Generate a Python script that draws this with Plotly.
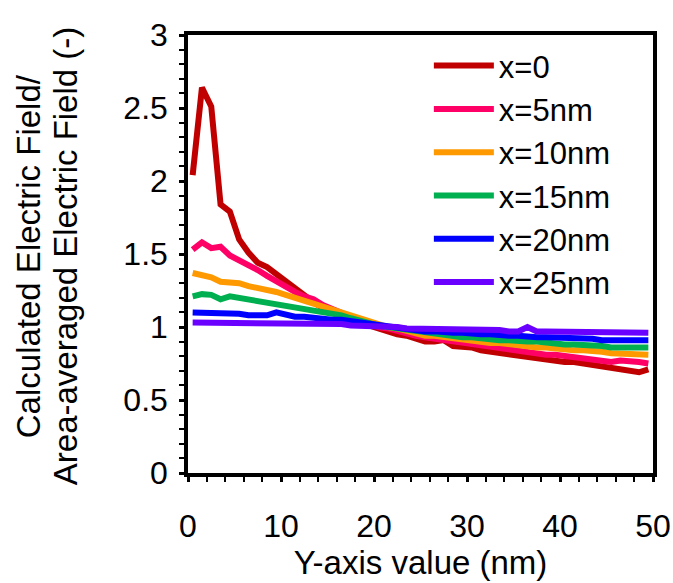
import plotly.graph_objects as go

y_pos = [i + 0.5 for i in range(50)]

x0 = [2.04, 2.64, 2.51, 1.84, 1.79, 1.60, 1.51, 1.44, 1.41, 1.36,
      1.31, 1.26, 1.21, 1.17, 1.13, 1.10, 1.07, 1.05, 1.03, 1.01,
      0.99, 0.96, 0.95, 0.94, 0.92, 0.90, 0.90, 0.91, 0.87, 0.87,
      0.86, 0.84, 0.83, 0.82, 0.81, 0.80, 0.79, 0.79, 0.78, 0.77,
      0.76, 0.76, 0.75, 0.73, 0.72, 0.72, 0.71, 0.70, 0.69, 0.71]
x5 = [1.53, 1.58, 1.54, 1.55, 1.49, 1.46, 1.43, 1.39, 1.35, 1.31,
      1.28, 1.24, 1.21, 1.19, 1.15, 1.12, 1.10, 1.07, 1.05, 1.02,
      1.00, 0.99, 0.97, 0.96, 0.94, 0.93, 0.92, 0.91, 0.90, 0.89,
      0.88, 0.87, 0.86, 0.86, 0.85, 0.84, 0.83, 0.82, 0.81, 0.81,
      0.80, 0.79, 0.79, 0.78, 0.77, 0.76, 0.77, 0.77, 0.76, 0.75]
x10 = [1.37, 1.36, 1.34, 1.31, 1.31, 1.30, 1.28, 1.27, 1.26, 1.24,
       1.22, 1.20, 1.18, 1.15, 1.13, 1.12, 1.10, 1.08, 1.06, 1.04,
       1.02, 1.00, 0.99, 0.97, 0.96, 0.94, 0.94, 0.93, 0.92, 0.91,
       0.90, 0.90, 0.89, 0.89, 0.88, 0.87, 0.87, 0.86, 0.86, 0.85,
       0.85, 0.84, 0.84, 0.84, 0.83, 0.82, 0.82, 0.82, 0.81, 0.81]
x15 = [1.21, 1.225, 1.22, 1.19, 1.21, 1.20, 1.19, 1.18, 1.17, 1.16,
       1.15, 1.14, 1.13, 1.12, 1.10, 1.09, 1.08, 1.06, 1.04, 1.03,
       1.01, 1.00, 0.99, 0.98, 0.97, 0.96, 0.95, 0.95, 0.94, 0.93,
       0.93, 0.92, 0.92, 0.91, 0.91, 0.90, 0.90, 0.90, 0.89, 0.89,
       0.88, 0.88, 0.88, 0.88, 0.87, 0.86, 0.86, 0.86, 0.86, 0.86]
x20 = [1.10, 1.10, 1.10, 1.10, 1.10, 1.09, 1.08, 1.08, 1.08, 1.10,
       1.08, 1.07, 1.07, 1.06, 1.06, 1.05, 1.05, 1.04, 1.03, 1.02,
       1.01, 1.00, 0.99, 0.99, 0.98, 0.97, 0.97, 0.96, 0.96, 0.96,
       0.95, 0.95, 0.95, 0.94, 0.94, 0.94, 0.93, 0.93, 0.93, 0.93,
       0.92, 0.92, 0.92, 0.92, 0.91, 0.91, 0.91, 0.91, 0.91, 0.91]
x25 = [1.03, 1.03, 1.03, 1.03, 1.03, 1.03, 1.03, 1.03, 1.02, 1.02,
       1.02, 1.02, 1.02, 1.02, 1.02, 1.02, 1.02, 1.01, 1.01, 1.01,
       1.01, 1.00, 1.00, 0.99, 0.99, 0.99, 0.99, 0.99, 0.98, 0.98,
       0.98, 0.98, 0.98, 0.98, 0.97, 0.97, 1.00, 0.97, 0.97, 0.97,
       0.97, 0.96, 0.96, 0.96, 0.96, 0.96, 0.96, 0.96, 0.96, 0.96]

names = ["x=0", "x=5nm", "x=10nm", "x=15nm", "x=20nm", "x=25nm"]
series = [x0, x5, x10, x15, x20, x25]
colors = ["#C00000", "#FF0066", "#FF9900", "#00B050", "#0000FF", "#6A00FF"]
y_title_lines = ["Calculated Electric Field/", "Area-averaged Electric Field (-)"]

FONT = "Liberation Sans, Arial, sans-serif"

fig = go.Figure()
for i, (nm, vals, c) in enumerate(zip(names, series, colors)):
    fig.add_trace(go.Scatter(x=y_pos, y=vals, mode="lines", name=nm,
                             line=dict(color=c, width=6),
                             legendgroup=str(i)))

# y-axis title drawn as two rotated lines (tighter line pitch than the default)
for line_text, xp in zip(y_title_lines, [-0.344, -0.2645]):
    fig.add_annotation(text=line_text, xref="paper", yref="paper",
                       x=xp, y=0.495, xanchor="center", yanchor="middle",
                       textangle=-90, showarrow=False,
                       font=dict(family=FONT, size=33, color="black"))

fig.update_layout(
    width=673, height=583,
    margin=dict(l=188, r=20, t=35, b=110, autoexpand=False),
    paper_bgcolor="white", plot_bgcolor="white",
    font=dict(family=FONT, size=32, color="black"),
    showlegend=True,
    legend=dict(x=0.518, y=0.991, xanchor="left", yanchor="top",
                bgcolor="rgba(0,0,0,0)", font=dict(size=31),
                itemwidth=60, tracegroupgap=0),
    xaxis=dict(range=[0, 50], tickvals=[0, 10, 20, 30, 40, 50],
               automargin=False,
               showgrid=False, zeroline=False,
               showline=True, linecolor="black", linewidth=3.5, mirror=True,
               ticks="outside", ticklen=5, tickwidth=2.5, tickcolor="black",
               minor=dict(dtick=2, ticks="outside", ticklen=5, tickwidth=2, tickcolor="black"),
               tickfont=dict(size=32), ticklabelstandoff=17,
               ticklabeloverflow="allow",
               title=dict(text="Y-axis value (nm)", font=dict(size=33), standoff=0)),
    yaxis=dict(range=[0, 3], tickvals=[0, 0.5, 1, 1.5, 2, 2.5, 3],
               ticktext=["0", "0.5", "1", "1.5", "2", "2.5", "3"],
               automargin=False,
               showgrid=False, zeroline=False,
               showline=True, linecolor="black", linewidth=3.5, mirror=True,
               ticks="outside", ticklen=5, tickwidth=2.5, tickcolor="black",
               minor=dict(dtick=0.1, ticks="outside", ticklen=5, tickwidth=2, tickcolor="black"),
               tickfont=dict(size=32), ticklabelstandoff=5,
               ticklabeloverflow="allow"),
)

# remove the browser's default 8px page margin so the 673x583 figure fills the window
fig.write_html("out.html",
               config={"displayModeBar": False},
               post_script="document.body.style.margin='0';document.body.style.overflow='hidden';")
